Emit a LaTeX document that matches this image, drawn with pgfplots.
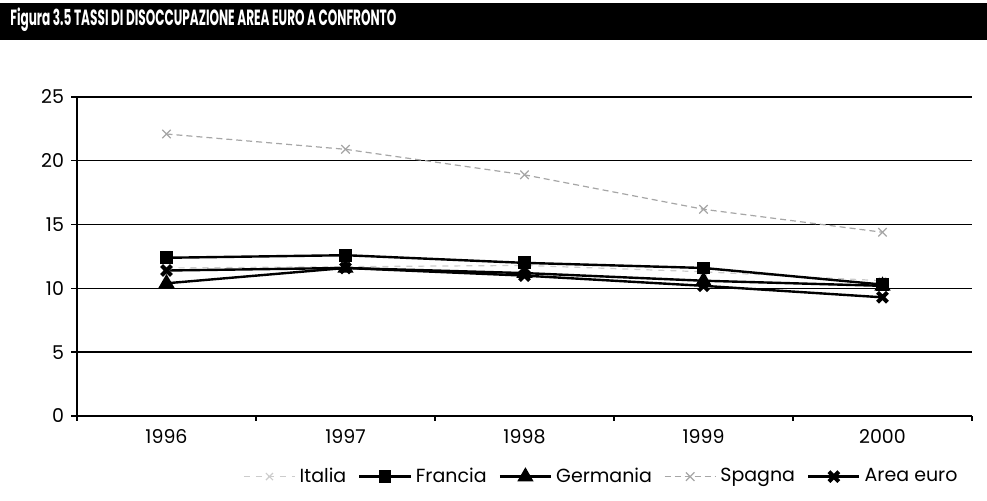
\documentclass[border=0pt]{standalone}
\usepackage{pgfplots}
\pgfplotsset{compat=1.18}
\usepackage{fontspec}
\setmainfont{Poppins}
\begin{document}
\begin{tikzpicture}[x=1pt,y=1pt]
\fill[black] (0,230.5) rectangle (493.5,249);
\node[anchor=west, text=white, font=\bfseries\fontsize{11}{12}\selectfont, inner sep=0] at (5,240.5) {\scalebox{0.55}[1]{Figura 3.5 TASSI DI DISOCCUPAZIONE AREA EURO A CONFRONTO}};
\begin{axis}[
  at={(38.5pt,42.5pt)}, anchor=south west,
  scale only axis, width=447.5pt, height=159.5pt,
  xmin=-0.5, xmax=4.5, ymin=0, ymax=25,
  xtick={0,1,2,3,4}, xticklabels={1996,1997,1998,1999,2000},
  minor xtick={-0.5,0.5,1.5,2.5,3.5,4.5},
  ytick={0,5,10,15,20,25},
  axis x line*=bottom, axis y line*=left,
  axis line style={black, line width=0.7pt},
  tick align=outside,
  major tick length=3pt, minor tick length=2.5pt,
  every major x tick/.append style={draw=none},
  tick style={black, line width=0.7pt},
  ymajorgrids, grid style={black, line width=0.7pt},
  tick label style={font=\fontsize{9.5}{10}\selectfont},
  /pgf/number format/assume math mode=true,
  legend style={at={(0.587,-0.19)}, anchor=center, draw=none, fill=none,
    legend columns=5, font=\fontsize{9.5}{10}\selectfont,
    /tikz/every even column/.append style={column sep=4pt}},
  legend image code/.code={\draw[mark repeat=2,mark phase=2] plot coordinates {(0cm,0cm)(0.45cm,0cm)(0.9cm,0cm)};},
]
\addplot[gray!40, dashed, line width=0.6pt, mark=x, mark size=2.5pt, mark options={solid}] coordinates {(0,11.6)(1,11.7)(2,11.8)(3,11.3)(4,10.6)};
\addlegendentry{Italia}
\addplot[black, line width=1.2pt, mark=square*, mark size=2.6pt] coordinates {(0,12.4)(1,12.6)(2,12.0)(3,11.6)(4,10.3)};
\addlegendentry{Francia}
\addplot[black, line width=1.2pt, mark=triangle*, mark size=3.5pt] coordinates {(0,10.4)(1,11.6)(2,11.2)(3,10.6)(4,10.2)};
\addlegendentry{Germania}
\addplot[gray!70, densely dashed, line width=0.6pt, mark=x, mark size=3pt, mark options={solid, line width=0.6pt}] coordinates {(0,22.1)(1,20.9)(2,18.9)(3,16.2)(4,14.4)};
\addlegendentry{Spagna}
\addplot[black, line width=1.2pt, mark=x, mark size=3.5pt, mark options={line width=2pt}] coordinates {(0,11.4)(1,11.6)(2,11.0)(3,10.2)(4,9.3)};
\addlegendentry{Area euro}
\end{axis}
\pgfresetboundingbox
\path[use as bounding box] (0,0) rectangle (493.5,250.5);
\end{tikzpicture}
\end{document}
